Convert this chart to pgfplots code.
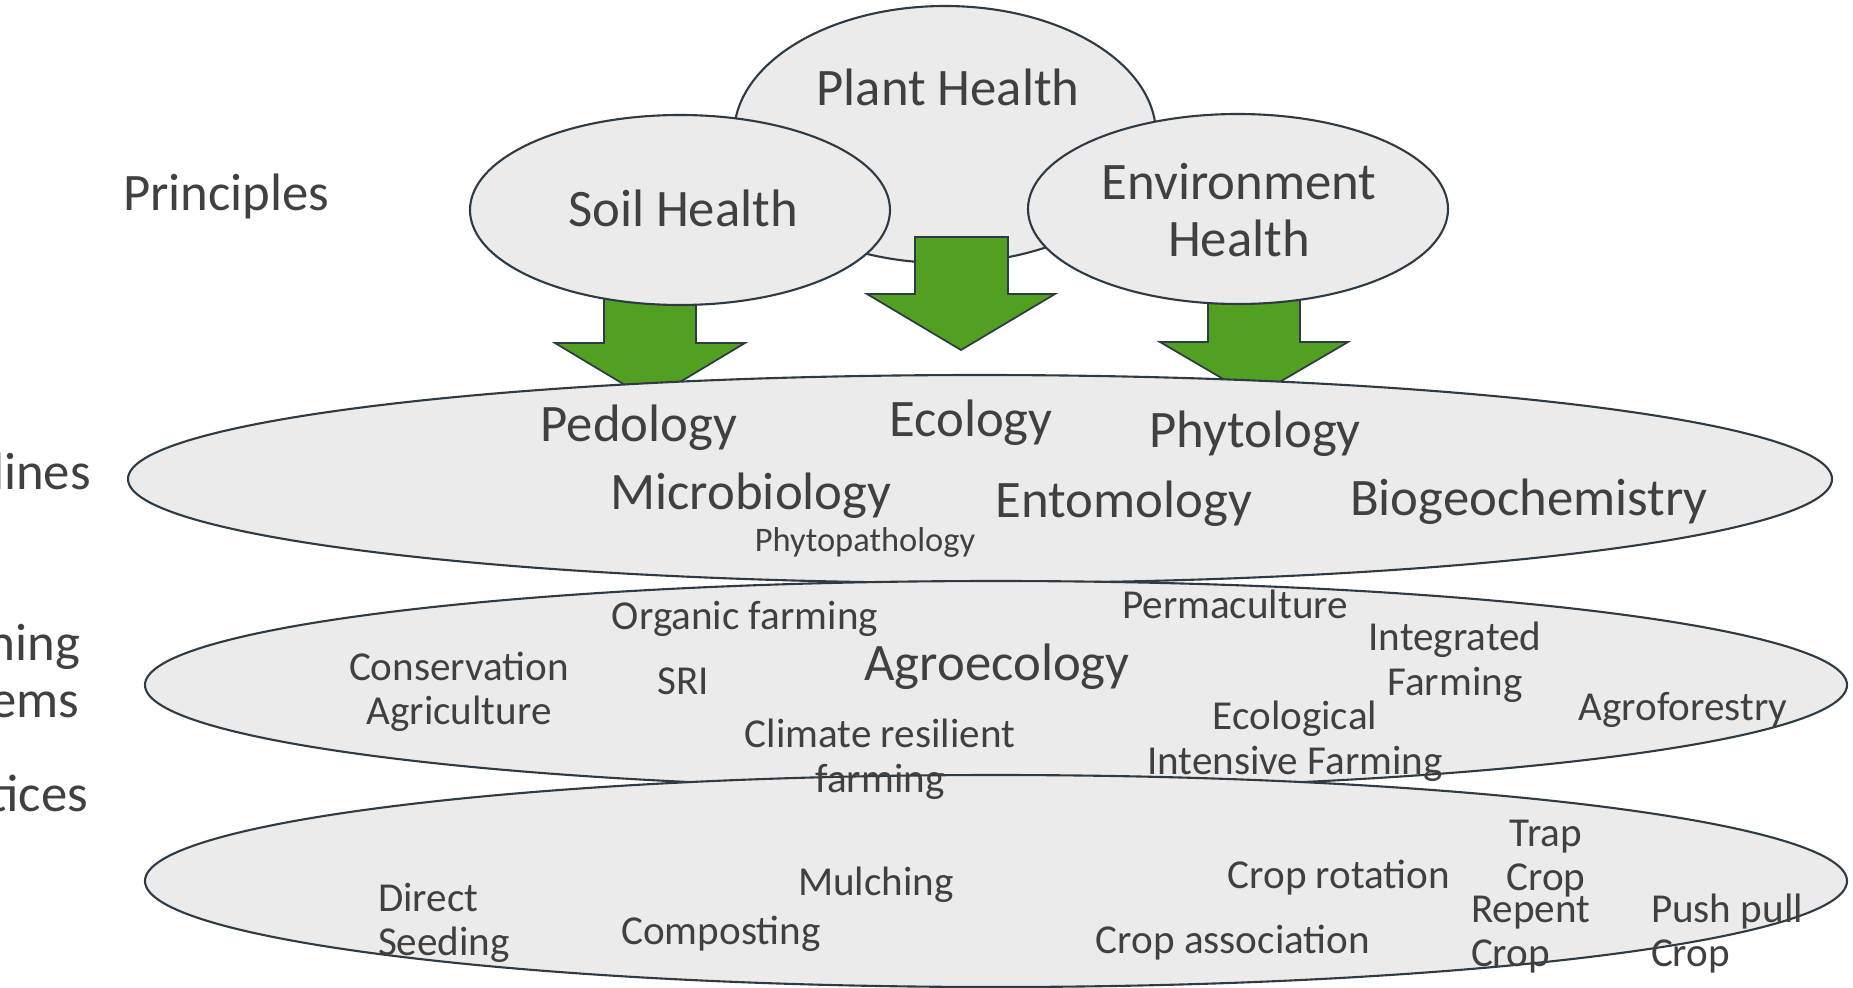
\documentclass[border=0pt]{standalone}
\usepackage{pgfplots}
\pgfplotsset{compat=1.18}
\usepackage{fontspec}
\setmainfont{Carlito}
\definecolor{txt}{HTML}{404040}
\definecolor{edge}{HTML}{2E3B44}
\definecolor{shape}{HTML}{EBEBEB}
\definecolor{arrowgreen}{HTML}{52A022}
\newcommand{\bigf}{\color{txt}\fontsize{15}{16.2}\selectfont}
\newcommand{\medf}{\color{txt}\fontsize{11.7}{12.8}\selectfont}
\newcommand{\smallf}{\color{txt}\fontsize{9.8}{11}\selectfont}
\begin{document}
\begin{tikzpicture}[lbl/.style={inner sep=0pt, outer sep=0pt, text=txt}]
\path[use as bounding box, clip] (0,0) rectangle (18.53cm,9.87cm);
\begin{axis}[
  width=18.53cm, height=9.87cm, scale only axis,
  xmin=0, xmax=1853, ymin=0, ymax=987, y dir=reverse,
  hide axis, clip=false
]
% Plant Health ellipse
\draw[fill=shape, draw=edge, line width=0.6pt] (axis cs:945,134.5) ellipse [x radius=21.1mm, y radius=12.85mm];
% middle arrow
\addplot[fill=arrowgreen, draw=edge, line width=0.5pt] coordinates {(915,237) (1008,237) (1008,294) (1055,294) (961,350) (867,294) (915,294) (915,237)} -- cycle;
% left arrow
\addplot[fill=arrowgreen, draw=edge, line width=0.5pt] coordinates {(604,280) (696,280) (696,343) (745,343) (650,400) (555,343) (604,343) (604,280)} -- cycle;
% right arrow
\addplot[fill=arrowgreen, draw=edge, line width=0.5pt] coordinates {(1208,280) (1300,280) (1300,342) (1348,342) (1254,397) (1160,342) (1208,342) (1208,280)} -- cycle;
% Soil and Environment ellipses
\draw[fill=shape, draw=edge, line width=0.6pt] (axis cs:680,210) ellipse [x radius=21mm, y radius=9.5mm];
\draw[fill=shape, draw=edge, line width=0.6pt] (axis cs:1238,209) ellipse [x radius=21mm, y radius=9.5mm];
% big ellipses
\draw[fill=shape, draw=edge, line width=0.6pt] (axis cs:980,479) ellipse [x radius=85.2mm, y radius=10.4mm];
\draw[fill=shape, draw=edge, line width=0.6pt] (axis cs:996,685) ellipse [x radius=85.1mm, y radius=10.4mm];
\draw[fill=shape, draw=edge, line width=0.6pt] (axis cs:996,881) ellipse [x radius=85.1mm, y radius=10.6mm];

% left labels
\node[lbl, anchor=mid west, font=\bigf] at (axis cs:123,202) {Principles};
\node[lbl, anchor=mid east, font=\bigf] at (axis cs:91,481) {Disciplines};
\node[lbl, anchor=mid east, font=\bigf] at (axis cs:80,652) {Farming};
\node[lbl, anchor=mid east, font=\bigf] at (axis cs:79,709) {Systems};
\node[lbl, anchor=mid east, font=\bigf] at (axis cs:88,803) {Practices};

% principles
\node[lbl, anchor=mid, font=\bigf] at (axis cs:948,97) {Plant Health};
\node[lbl, anchor=mid, font=\bigf] at (axis cs:683,218) {Soil Health};
\node[lbl, anchor=mid, font=\bigf] at (axis cs:1239,191) {Environment};
\node[lbl, anchor=mid, font=\bigf] at (axis cs:1239,248) {Health};

% disciplines
\node[lbl, anchor=mid, font=\bigf] at (axis cs:639,433) {Pedology};
\node[lbl, anchor=mid, font=\bigf] at (axis cs:971,428) {Ecology};
\node[lbl, anchor=mid, font=\bigf] at (axis cs:1255,439) {Phytology};
\node[lbl, anchor=mid, font=\bigf] at (axis cs:751,501) {Microbiology};
\node[lbl, anchor=mid, font=\bigf] at (axis cs:1124,509) {Entomology};
\node[lbl, anchor=mid, font=\bigf] at (axis cs:1529,507) {Biogeochemistry};
\node[lbl, anchor=mid, font=\smallf] at (axis cs:865,543) {Phytopathology};

% farming systems
\node[lbl, anchor=mid, font=\medf] at (axis cs:745,621) {Organic farming};
\node[lbl, anchor=mid, font=\medf] at (axis cs:1235,610) {Permaculture};
\node[lbl, anchor=mid, font=\medf] at (axis cs:1455,642) {Integrated};
\node[lbl, anchor=mid, font=\medf] at (axis cs:1455,687) {Farming};
\node[lbl, anchor=mid, font=\medf] at (axis cs:459,672) {Conservation};
\node[lbl, anchor=mid, font=\medf] at (axis cs:459,716) {Agriculture};
\node[lbl, anchor=mid, font=\medf] at (axis cs:683,686) {SRI};
\node[lbl, anchor=mid, font=\bigf] at (axis cs:997,672) {Agroecology};
\node[lbl, anchor=mid, font=\medf] at (axis cs:1683,712) {Agroforestry};
\node[lbl, anchor=mid, font=\medf] at (axis cs:1295,721) {Ecological};
\node[lbl, anchor=mid, font=\medf] at (axis cs:1295,766) {Intensive Farming};
\node[lbl, anchor=mid, font=\medf] at (axis cs:880,739) {Climate resilient};
\node[lbl, anchor=mid, font=\medf] at (axis cs:880,784) {farming};

% practices
\node[lbl, anchor=mid west, font=\medf] at (axis cs:378,903) {Direct};
\node[lbl, anchor=mid west, font=\medf] at (axis cs:378,947) {Seeding};
\node[lbl, anchor=mid, font=\medf] at (axis cs:721,936) {Composting};
\node[lbl, anchor=mid, font=\medf] at (axis cs:876,887) {Mulching};
\node[lbl, anchor=mid, font=\medf] at (axis cs:1339,880) {Crop rotation};
\node[lbl, anchor=mid, font=\medf] at (axis cs:1233,945) {Crop association};
\node[lbl, anchor=mid, font=\medf] at (axis cs:1546,838) {Trap};
\node[lbl, anchor=mid, font=\medf] at (axis cs:1546,882) {Crop};
\node[lbl, anchor=mid west, font=\medf] at (axis cs:1471,914) {Repent};
\node[lbl, anchor=mid west, font=\medf] at (axis cs:1471,958) {Crop};
\node[lbl, anchor=mid west, font=\medf] at (axis cs:1651,914) {Push pull};
\node[lbl, anchor=mid west, font=\medf] at (axis cs:1651,958) {Crop};
\end{axis}
\end{tikzpicture}
\end{document}
